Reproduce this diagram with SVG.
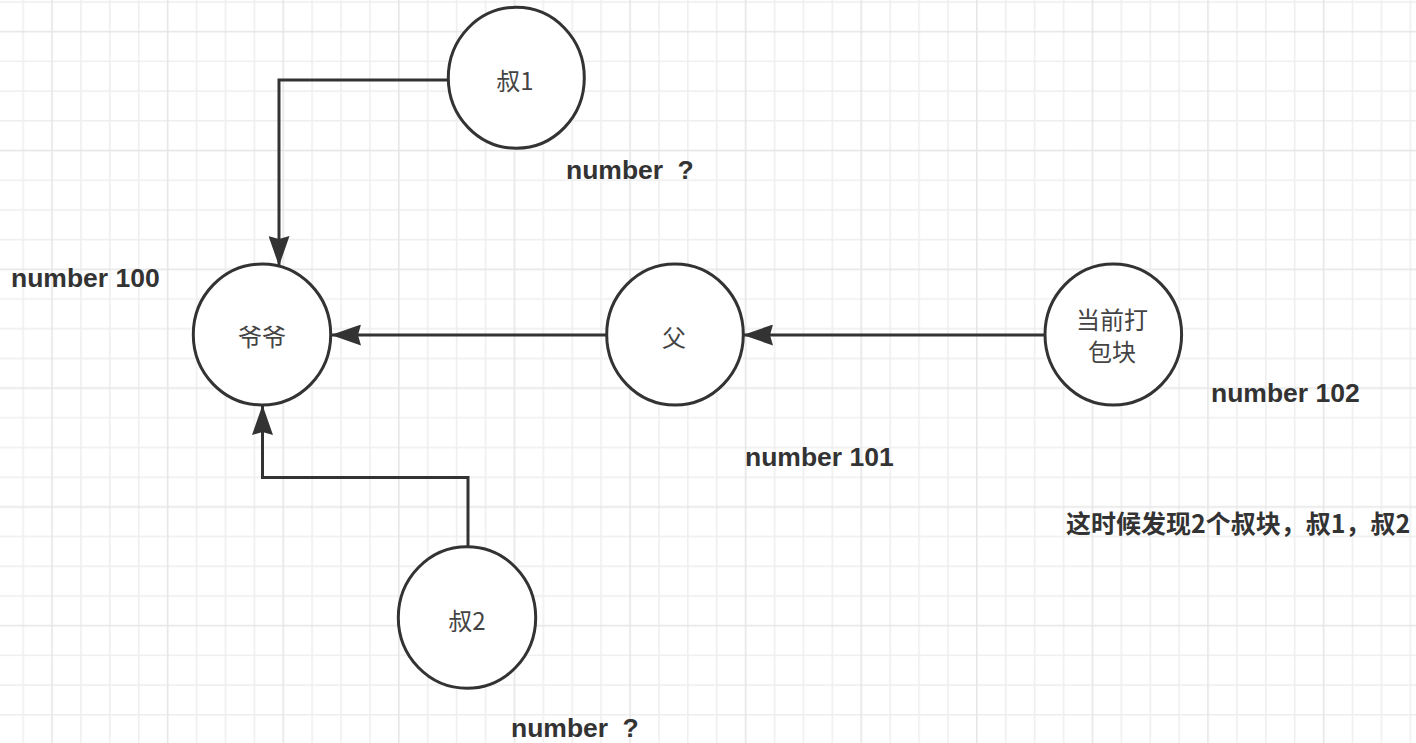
<svg xmlns="http://www.w3.org/2000/svg" width="1416" height="743" viewBox="0 0 1416 743">
  <defs>
    <!-- background grid: 4x4 minor cells, second line of each tile is a major line -->
    <pattern id="grid" patternUnits="userSpaceOnUse" x="22.3" y="1.2" width="115.6" height="118.8">
      <g fill="#efefef">
        <rect x="0" y="0" width="1.6" height="118.8"/>
        <rect x="57.8" y="0" width="1.6" height="118.8"/>
        <rect x="86.7" y="0" width="1.6" height="118.8"/>
        <rect x="0" y="0" width="115.6" height="1.6"/>
        <rect x="0" y="59.4" width="115.6" height="1.6"/>
        <rect x="0" y="89.1" width="115.6" height="1.6"/>
      </g>
      <g fill="#e6e6e6">
        <rect x="28.9" y="0" width="1.6" height="118.8"/>
        <rect x="0" y="29.7" width="115.6" height="1.6"/>
      </g>
    </pattern>
    <marker id="arrow" markerUnits="userSpaceOnUse" viewBox="0 0 30 21" refX="30" refY="10.5" markerWidth="30" markerHeight="21" orient="auto">
      <path d="M0,0 L30,10.5 L0,21 L3,10.5 Z" fill="#333333"/>
    </marker>
  </defs>
  <style>
    .node ellipse { fill: #ffffff; stroke: #333333; stroke-width: 3; }
    .node text { font-family: "Noto Sans CJK SC", "Liberation Sans", sans-serif; font-size: 24px; fill: #444444; text-anchor: middle; }
    .edge { fill: none; stroke: #333333; stroke-width: 3; marker-end: url(#arrow); }
    .label { font-family: "Liberation Sans", "Noto Sans CJK SC", sans-serif; font-size: 26.5px; font-weight: bold; fill: #333333; }
    .note { font-family: "Noto Sans CJK SC", sans-serif; font-size: 25px; font-weight: bold; fill: #333333; }
  </style>

  <rect width="1416" height="743" fill="#ffffff"/>
  <rect width="1416" height="743" fill="url(#grid)"/>

  <!-- connectors -->
  <g id="connectors">
    <path class="edge" d="M448,80 H279 V266"/>
    <path class="edge" d="M606,335 H331"/>
    <path class="edge" d="M1045,335 H743"/>
    <path class="edge" d="M468,547 V477.5 H262.5 V405"/>
  </g>

  <!-- nodes -->
  <g id="node-shu1" class="node">
    <ellipse cx="516.3" cy="77.8" rx="68" ry="70.5"/>
    <text x="515" y="90">叔1</text>
  </g>
  <g id="node-yeye" class="node">
    <ellipse cx="262" cy="334.5" rx="68.7" ry="70.5"/>
    <text x="262" y="346">爷爷</text>
  </g>
  <g id="node-fu" class="node">
    <ellipse cx="675" cy="334.5" rx="68.3" ry="70.5"/>
    <text x="674" y="347">父</text>
  </g>
  <g id="node-current" class="node">
    <ellipse cx="1113.3" cy="334.5" rx="68.3" ry="70.5"/>
    <text x="1112" y="329">当前打</text>
    <text x="1112" y="361">包块</text>
  </g>
  <g id="node-shu2" class="node">
    <ellipse cx="467" cy="617.5" rx="68.7" ry="70.8"/>
    <text x="467" y="630">叔2</text>
  </g>

  <!-- block height labels -->
  <g id="labels">
    <text class="label" x="566" y="179" word-spacing="7">number ?</text>
    <text class="label" x="11" y="287">number 100</text>
    <text class="label" x="745" y="466">number 101</text>
    <text class="label" x="1211" y="402">number 102</text>
    <text class="label" x="511" y="737" word-spacing="7">number ?</text>
    <text class="note" x="1066" y="533">这时候发现2个叔块，叔1，叔2</text>
  </g>
</svg>
